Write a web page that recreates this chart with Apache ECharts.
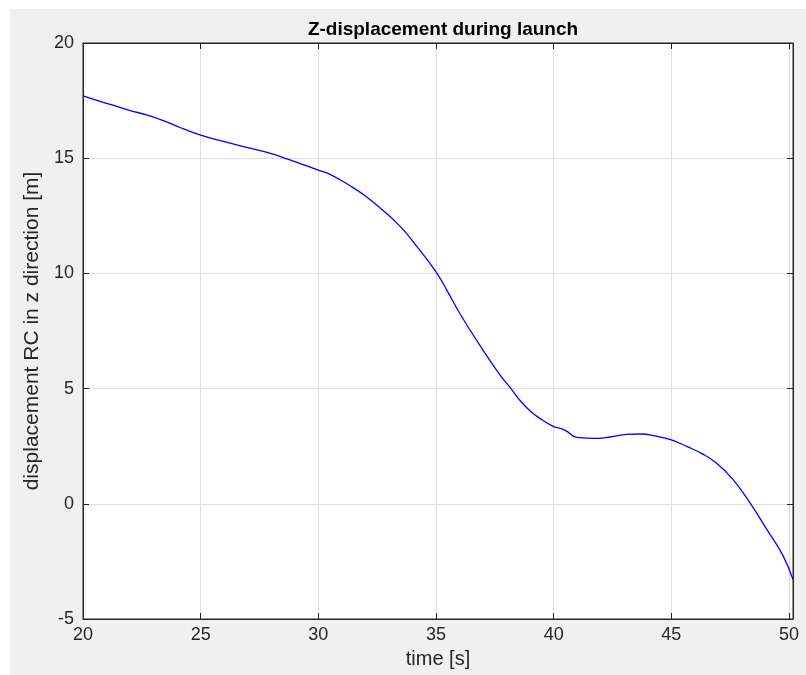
<!DOCTYPE html>
<html>
<head>
<meta charset="utf-8">
<script src="https://cdn.jsdelivr.net/npm/echarts@6/dist/echarts.min.js"></script>
<style>
  html, body { margin: 0; padding: 0; background: #ffffff; }
  #chart { width: 806px; height: 675px; }
</style>
</head>
<body>
<div id="chart"></div>
<script>
// Z-displacement of the RC during launch, sampled time [s] vs displacement [m]
const timeS = [20, 21, 21.3, 22, 22.7, 23.5, 24.0, 25, 26, 27, 28, 28.7, 29.2, 30, 30.5,
  31.4, 32, 32.6, 33.5, 34.2, 35, 35.5, 36, 36.9, 37.7, 38.2, 38.6, 39, 39.4, 40,
  40.35, 40.6, 40.85, 41.1, 41.7, 42.4, 43.1, 43.7, 44.25, 45, 45.7, 46.3, 46.9,
  47.6, 48.35, 49.05, 49.75, 50.17];
const displacementZ = [17.70, 17.38, 17.29, 17.07, 16.88, 16.60, 16.38, 16.0, 15.72, 15.46, 15.2,
  14.96, 14.78, 14.48, 14.30, 13.77, 13.36, 12.86, 12.02, 11.15, 10.07, 9.2, 8.28, 6.82, 5.62,
  4.98, 4.45, 4.03, 3.72, 3.35, 3.25, 3.12, 2.93, 2.87, 2.84, 2.90, 3.01, 3.03, 2.96, 2.77,
  2.47, 2.18, 1.78, 1.08, 0.03, -1.10, -2.26, -3.29];

const xTicks = [20, 25, 30, 35, 40, 45, 50];
const yTicks = [-5, 0, 5, 10, 15, 20];

const points = timeS.map((t, i) => [t, displacementZ[i]]);

const axisColor = '#262626';
const gridColor = '#dedede';
const fontFamily = '"Liberation Sans", Arial, Helvetica, sans-serif';

const chart = echarts.init(document.getElementById('chart'), null, { renderer: 'canvas' });

const xLabel = v => xTicks.indexOf(v) >= 0 ? String(v) : '';
const yLabel = v => yTicks.indexOf(v) >= 0 ? String(v) : '';

// top and right axes only close the box and carry inward ticks
const boxAxis = {
  axisLine: { show: true, onZero: false, lineStyle: { color: axisColor } },
  axisTick: { show: true, inside: true, length: 6, lineStyle: { color: axisColor } },
  axisLabel: { show: false },
  splitLine: { show: false }
};

chart.setOption({
  backgroundColor: '#ffffff',
  animation: false,
  graphic: [{
    type: 'rect',
    z: -10,
    silent: true,
    shape: { x: 10, y: 9, width: 796, height: 666 },
    style: { fill: '#f0f0f0' }
  }],
  title: {
    text: 'Z-displacement during launch',
    left: 438,
    top: 15,
    textAlign: 'center',
    textStyle: { fontFamily, fontSize: 19, fontWeight: 'bold', color: '#000000' }
  },
  grid: {
    left: 83, right: 13, top: 43, bottom: 56,
    show: true, backgroundColor: '#ffffff', borderColor: axisColor, borderWidth: 1
  },
  xAxis: [{
    type: 'value',
    min: 20, max: 50.17, interval: 5,
    name: 'time [s]',
    nameLocation: 'middle',
    nameGap: 30,
    nameTextStyle: { fontFamily, fontSize: 20, color: axisColor },
    axisLine: { show: true, onZero: false, lineStyle: { color: axisColor } },
    axisTick: { show: true, inside: true, length: 6, lineStyle: { color: axisColor } },
    axisLabel: { fontFamily, fontSize: 18, color: axisColor, margin: 7, formatter: xLabel },
    splitLine: { show: true, lineStyle: { color: gridColor } }
  }, Object.assign({ type: 'value', position: 'top', min: 20, max: 50.17, interval: 5 }, boxAxis)],
  yAxis: [{
    type: 'value',
    min: -5, max: 20, interval: 5,
    name: 'displacement RC in z direction [m]',
    nameLocation: 'middle',
    nameGap: 33,
    nameTextStyle: { fontFamily, fontSize: 21, color: axisColor },
    axisLine: { show: true, onZero: false, lineStyle: { color: axisColor } },
    axisTick: { show: true, inside: true, length: 6, lineStyle: { color: axisColor } },
    axisLabel: { fontFamily, fontSize: 18, color: axisColor, margin: 9, formatter: yLabel },
    splitLine: { show: true, lineStyle: { color: gridColor } }
  }, Object.assign({ type: 'value', position: 'right', min: -5, max: 20, interval: 5 }, boxAxis)],
  series: [{
    type: 'line',
    data: points,
    showSymbol: false,
    smooth: 0.45,
    lineStyle: { color: '#0000ff', width: 1.3 },
    clip: true
  }]
});
</script>
</body>
</html>
